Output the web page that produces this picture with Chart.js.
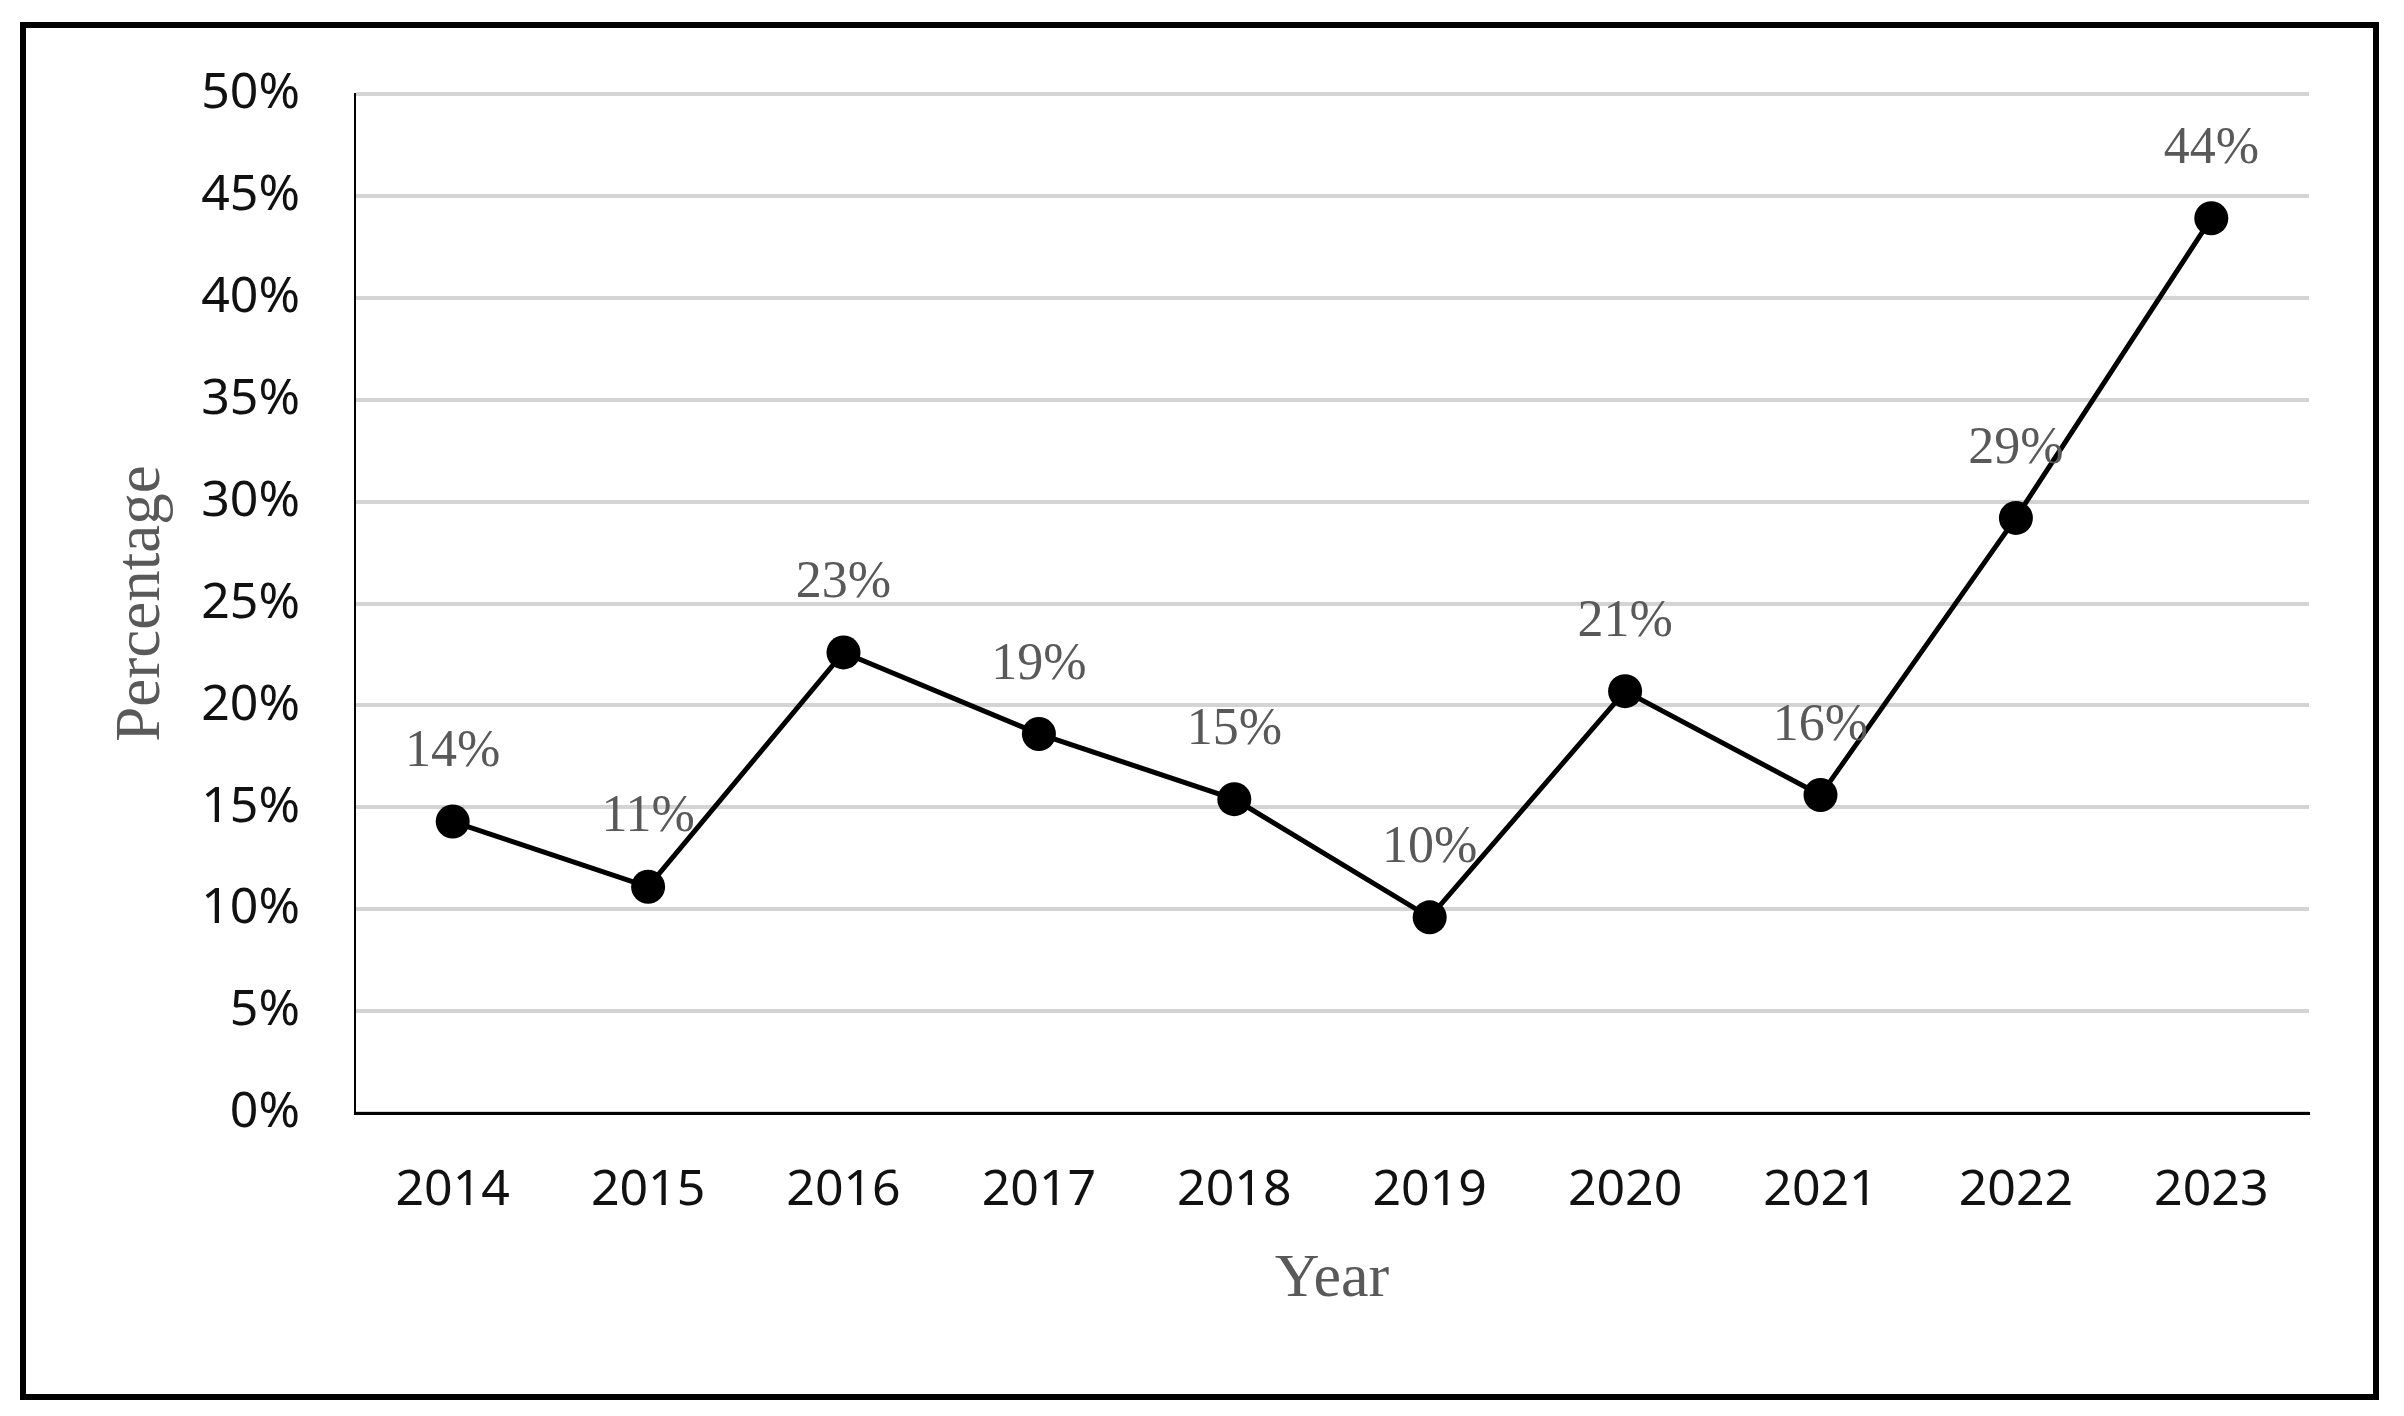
<!DOCTYPE html>
<html>
<head>
<meta charset="utf-8">
<script src="https://cdn.jsdelivr.net/npm/chart.js@4/dist/chart.umd.min.js"></script>
<style>
	body { margin: 0; background: #fff; }
	#frame { position: absolute; left: 20px; top: 22px; width: 2347px; height: 1366px; border: 6px solid #000; }
	#trend { position: absolute; left: 0; top: 0; }
</style>
</head>
<body>
<div id="frame"></div>
<canvas id="trend" width="2404" height="1416"></canvas>
<script>
var years = ['2014', '2015', '2016', '2017', '2018', '2019', '2020', '2021', '2022', '2023'];
var percentages = [14.3, 11.1, 22.6, 18.6, 15.4, 9.6, 20.7, 15.6, 29.2, 43.9];
var pointLabels = ['14%', '11%', '23%', '19%', '15%', '10%', '21%', '16%', '29%', '44%'];
var yTicks = [0, 5, 10, 15, 20, 25, 30, 35, 40, 45, 50];

// draws the % text above every point
var valueLabels = {
	id : 'valueLabels',
	afterDatasetsDraw : function(chart) {
		var ctx = chart.ctx;
		var meta = chart.getDatasetMeta(0);
		ctx.save();
		ctx.font = '52px "Liberation Serif"';
		ctx.fillStyle = '#595959';
		ctx.textAlign = 'center';
		ctx.textBaseline = 'middle';
		meta.data.forEach(function(pt, i) {
			ctx.fillText(pointLabels[i], pt.x, pt.y - 69);
		});
		ctx.restore();
	}
};

var config = {
	type : 'line',
	data : {
		labels : years,
		datasets : [ {
			data : percentages,
			borderColor : '#000',
			borderWidth : 5,
			backgroundColor : '#000',
			pointRadius : 17,
			pointHoverRadius : 17,
			pointBackgroundColor : '#000',
			pointBorderWidth : 0,
			tension : 0
		} ]
	},
	options : {
		responsive : false,
		animation : false,
		devicePixelRatio : 1,
		layout : {
			padding : { left : 0, top : 94, right : 95, bottom : 0 }
		},
		plugins : {
			legend : { display : false },
			tooltip : { enabled : false }
		},
		scales : {
			x : {
				offset : true,
				grid : { display : false, drawTicks : false },
				border : { display : true, color : '#000', width : 3 },
				ticks : {
					color : '#111',
					padding : 48,
					font : { family : 'Noto Sans', size : 50 }
				},
				title : {
					display : true,
					text : 'Year',
					color : '#595959',
					padding : { top : 0, bottom : 99 },
					font : { family : 'Liberation Serif', size : 62 }
				},
				afterFit : function(scale) {
					scale.height = 303;
				}
			},
			y : {
				min : 0,
				max : 50,
				afterBuildTicks : function(scale) {
					scale.ticks = yTicks.map(function(v) { return { value : v }; });
				},
				grid : { color : '#d4d4d4', lineWidth : 4, drawTicks : false },
				border : { display : true, color : '#000', width : 2 },
				ticks : {
					color : '#111',
					padding : 55,
					font : { family : 'Noto Sans', size : 50 },
					callback : function(v) { return v + '%'; }
				},
				title : {
					display : true,
					text : 'Percentage',
					color : '#595959',
					padding : { top : 105, bottom : 0 },
					font : { family : 'Liberation Serif', size : 63 }
				},
				afterFit : function(scale) {
					scale.width = 355;
				}
			}
		}
	},
	plugins : [ valueLabels ]
};

var ctx = document.getElementById('trend').getContext('2d');
window.trendChart = new Chart(ctx, config);
</script>
</body>
</html>
